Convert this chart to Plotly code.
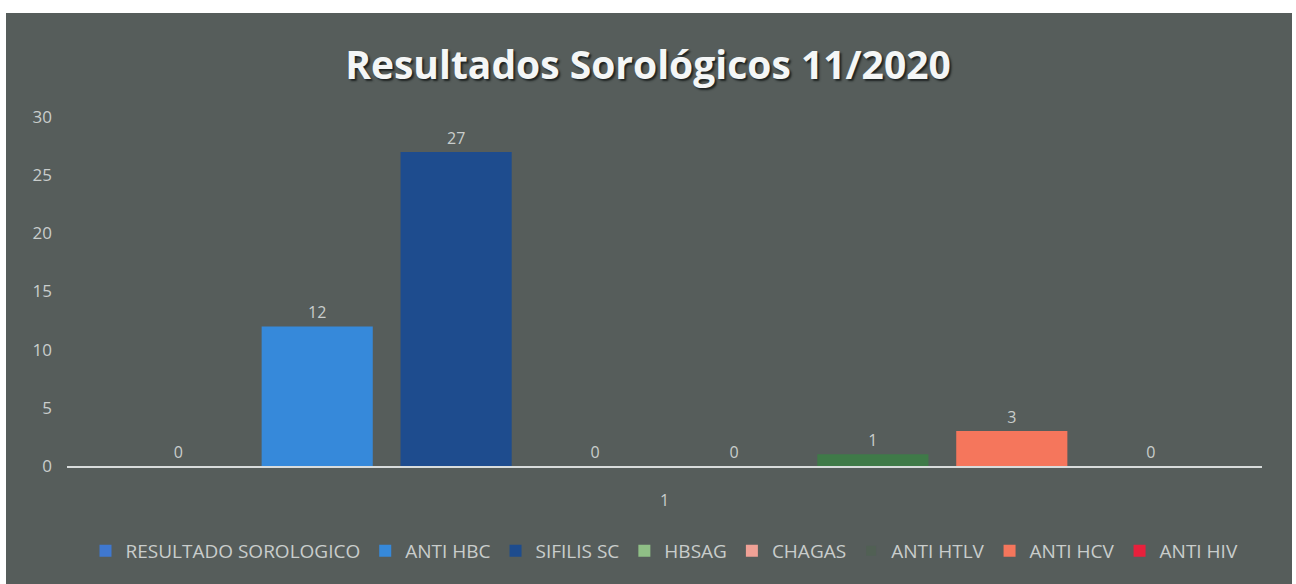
import plotly.graph_objects as go

series_names = ["RESULTADO SOROLOGICO", "ANTI HBC", "SIFILIS SC", "HBSAG",
                "CHAGAS", "ANTI HTLV", "ANTI HCV", "ANTI HIV"]
series_values = [0, 12, 27, 0, 0, 1, 3, 0]
series_colors = ["#3f78d0", "#3689da", "#1e4c8e", "#8fbf86",
                 "#f0a196", "#3f7a48", "#f5765c", "#e8203c"]
category = ["1"]
y_ticks = [0, 5, 10, 15, 20, 25, 30]

FONT = "Open Sans"
TXT = "#c9cdcc"
BG = "#565d5b"

fig = go.Figure()
for name, val, col in zip(series_names, series_values, series_colors):
    fig.add_trace(go.Bar(
        name=name, x=category, y=[val], marker=dict(color=col, line=dict(width=0)),
        texttemplate="%{y}", textposition="outside",
        textfont=dict(color=TXT, size=16, family=FONT),
        cliponaxis=False, showlegend=(name != "ANTI HTLV"),
    ))
    if name == "ANTI HTLV":
        # legend swatch for this series is nearly invisible in the reference
        fig.add_trace(go.Scatter(
            name=name, x=[None], y=[None], mode="markers",
            marker=dict(symbol="square", size=10, color="#516054"),
        ))

L, R, T, B = 67, 34, 117, 118
pw = 1296 - L - R
ph = 584 - T - B

fig.update_layout(
    width=1296, height=584,
    margin=dict(l=L, r=R, t=T, b=B),
    paper_bgcolor="white",
    plot_bgcolor="rgba(0,0,0,0)",
    barmode="group", bargap=0.07, bargroupgap=0.2,
    title=dict(text="<b>Resultados Sorológicos 11/2020</b>", x=0.5, xanchor="center",
               y=1 - 65 / 584, yanchor="middle",
               font=dict(family=FONT, size=39, color="#f4f6f6",
                         shadow="2px 2px 2px #1e2322")),
    font=dict(family=FONT, color=TXT),
    showlegend=True,
    legend=dict(orientation="h", x=0.5, xanchor="center", y=(466 - 551) / ph,
                yanchor="middle", font=dict(size=19, color=TXT, family=FONT),
                bgcolor="rgba(0,0,0,0)", itemclick=False, traceorder="normal",
                itemwidth=30),
    shapes=[dict(type="rect", xref="paper", yref="paper", layer="below",
                 x0=(6 - L) / pw, x1=(1292 - L) / pw,
                 y0=(466 - 600) / ph, y1=(466 - 13) / ph,
                 fillcolor=BG, line=dict(width=0))],
)
fig.update_yaxes(range=[0, 30], tickvals=y_ticks, showgrid=False, zeroline=False,
                 showline=False, ticks="", tickfont=dict(size=17, color=TXT, family=FONT),
                 ticklabelstandoff=14)
fig.update_xaxes(type="category", showline=True, linecolor="#d8dcdc", linewidth=2,
                 ticks="", tickfont=dict(size=16, color=TXT, family=FONT),
                 ticklabelstandoff=19, showgrid=False)

fig.write_html("out.html", config={"displayModeBar": False},
               post_script="document.body.style.margin='0';")
